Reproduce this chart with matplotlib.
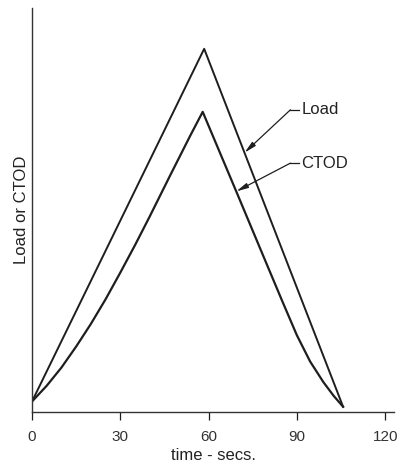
import matplotlib
matplotlib.use('Agg')
import matplotlib.pyplot as plt
import numpy as np

# values (time in secs, load / ctod in arbitrary units)
load_t = [0, 58.5, 105.7]
load_v = [2.6, 89.9, 1.3]

ctod_t = [0, 5.0, 10.0, 15.0, 20.0, 25.0, 30.0, 35.0, 40.0, 46.9, 53.7, 58.0,
          69.4, 78.6, 85.0, 90.0, 94.5, 99.0, 102.5, 105.7]
ctod_v = [2.6, 6.5, 11.0, 16.2, 21.8, 27.9, 34.5, 41.3, 48.4, 58.5, 68.3, 74.3,
          54.6, 38.6, 27.5, 19.0, 12.5, 7.4, 4.0, 1.3]

xticks = [0, 30, 60, 90, 120]

plt.rcParams['font.family'] = ['Liberation Sans', 'DejaVu Sans']

fig = plt.figure(figsize=(4.01, 4.70), dpi=100)
ax = fig.add_axes([32/401, 58/470, 362/401, 404/470])

ink = '#1e1e1e'
ax.plot(load_t, load_v, color=ink, lw=1.4)
ax.plot(ctod_t, ctod_v, color=ink, lw=1.6)

ax.set_xlim(0, 123)
ax.set_ylim(0, 100)
ax.set_xticks(xticks)
ax.set_xticklabels([str(t) for t in xticks], fontsize=11, color='#333333')
ax.set_yticks([])
ax.tick_params(axis='x', direction='out', length=6, width=0.9, color=ink, pad=7)

for s in ['top', 'right']:
    ax.spines[s].set_visible(False)
for s in ['left', 'bottom']:
    ax.spines[s].set_linewidth(1.0)
    ax.spines[s].set_color('#333333')

ax.set_xlabel('time - secs.', fontsize=12, color='#222222', labelpad=3)
ax.set_ylabel('Load or CTOD', fontsize=12, color='#222222', labelpad=2)

# leader lines with arrows for the two curve labels
labels = [('Load', load_t[1:], load_v[1:], 72.2, 74.8),
          ('CTOD', ctod_t[11:], ctod_v[11:], 69.4, 61.6)]
for name, tt, vv, tip_t, lab_v in labels:
    tip_v = np.interp(tip_t, tt, vv)
    ax.annotate('', xy=(tip_t, tip_v), xytext=(87.8, lab_v),
                arrowprops=dict(arrowstyle='-|>,head_length=0.7,head_width=0.15',
                                color=ink, lw=0.9, shrinkA=0, shrinkB=0))
    ax.plot([87.8, 90.8], [lab_v, lab_v], color=ink, lw=0.9)
    ax.text(91.6, lab_v, name, fontsize=12, color='#222222', va='center', ha='left')

fig.savefig('out.png', dpi=100)
